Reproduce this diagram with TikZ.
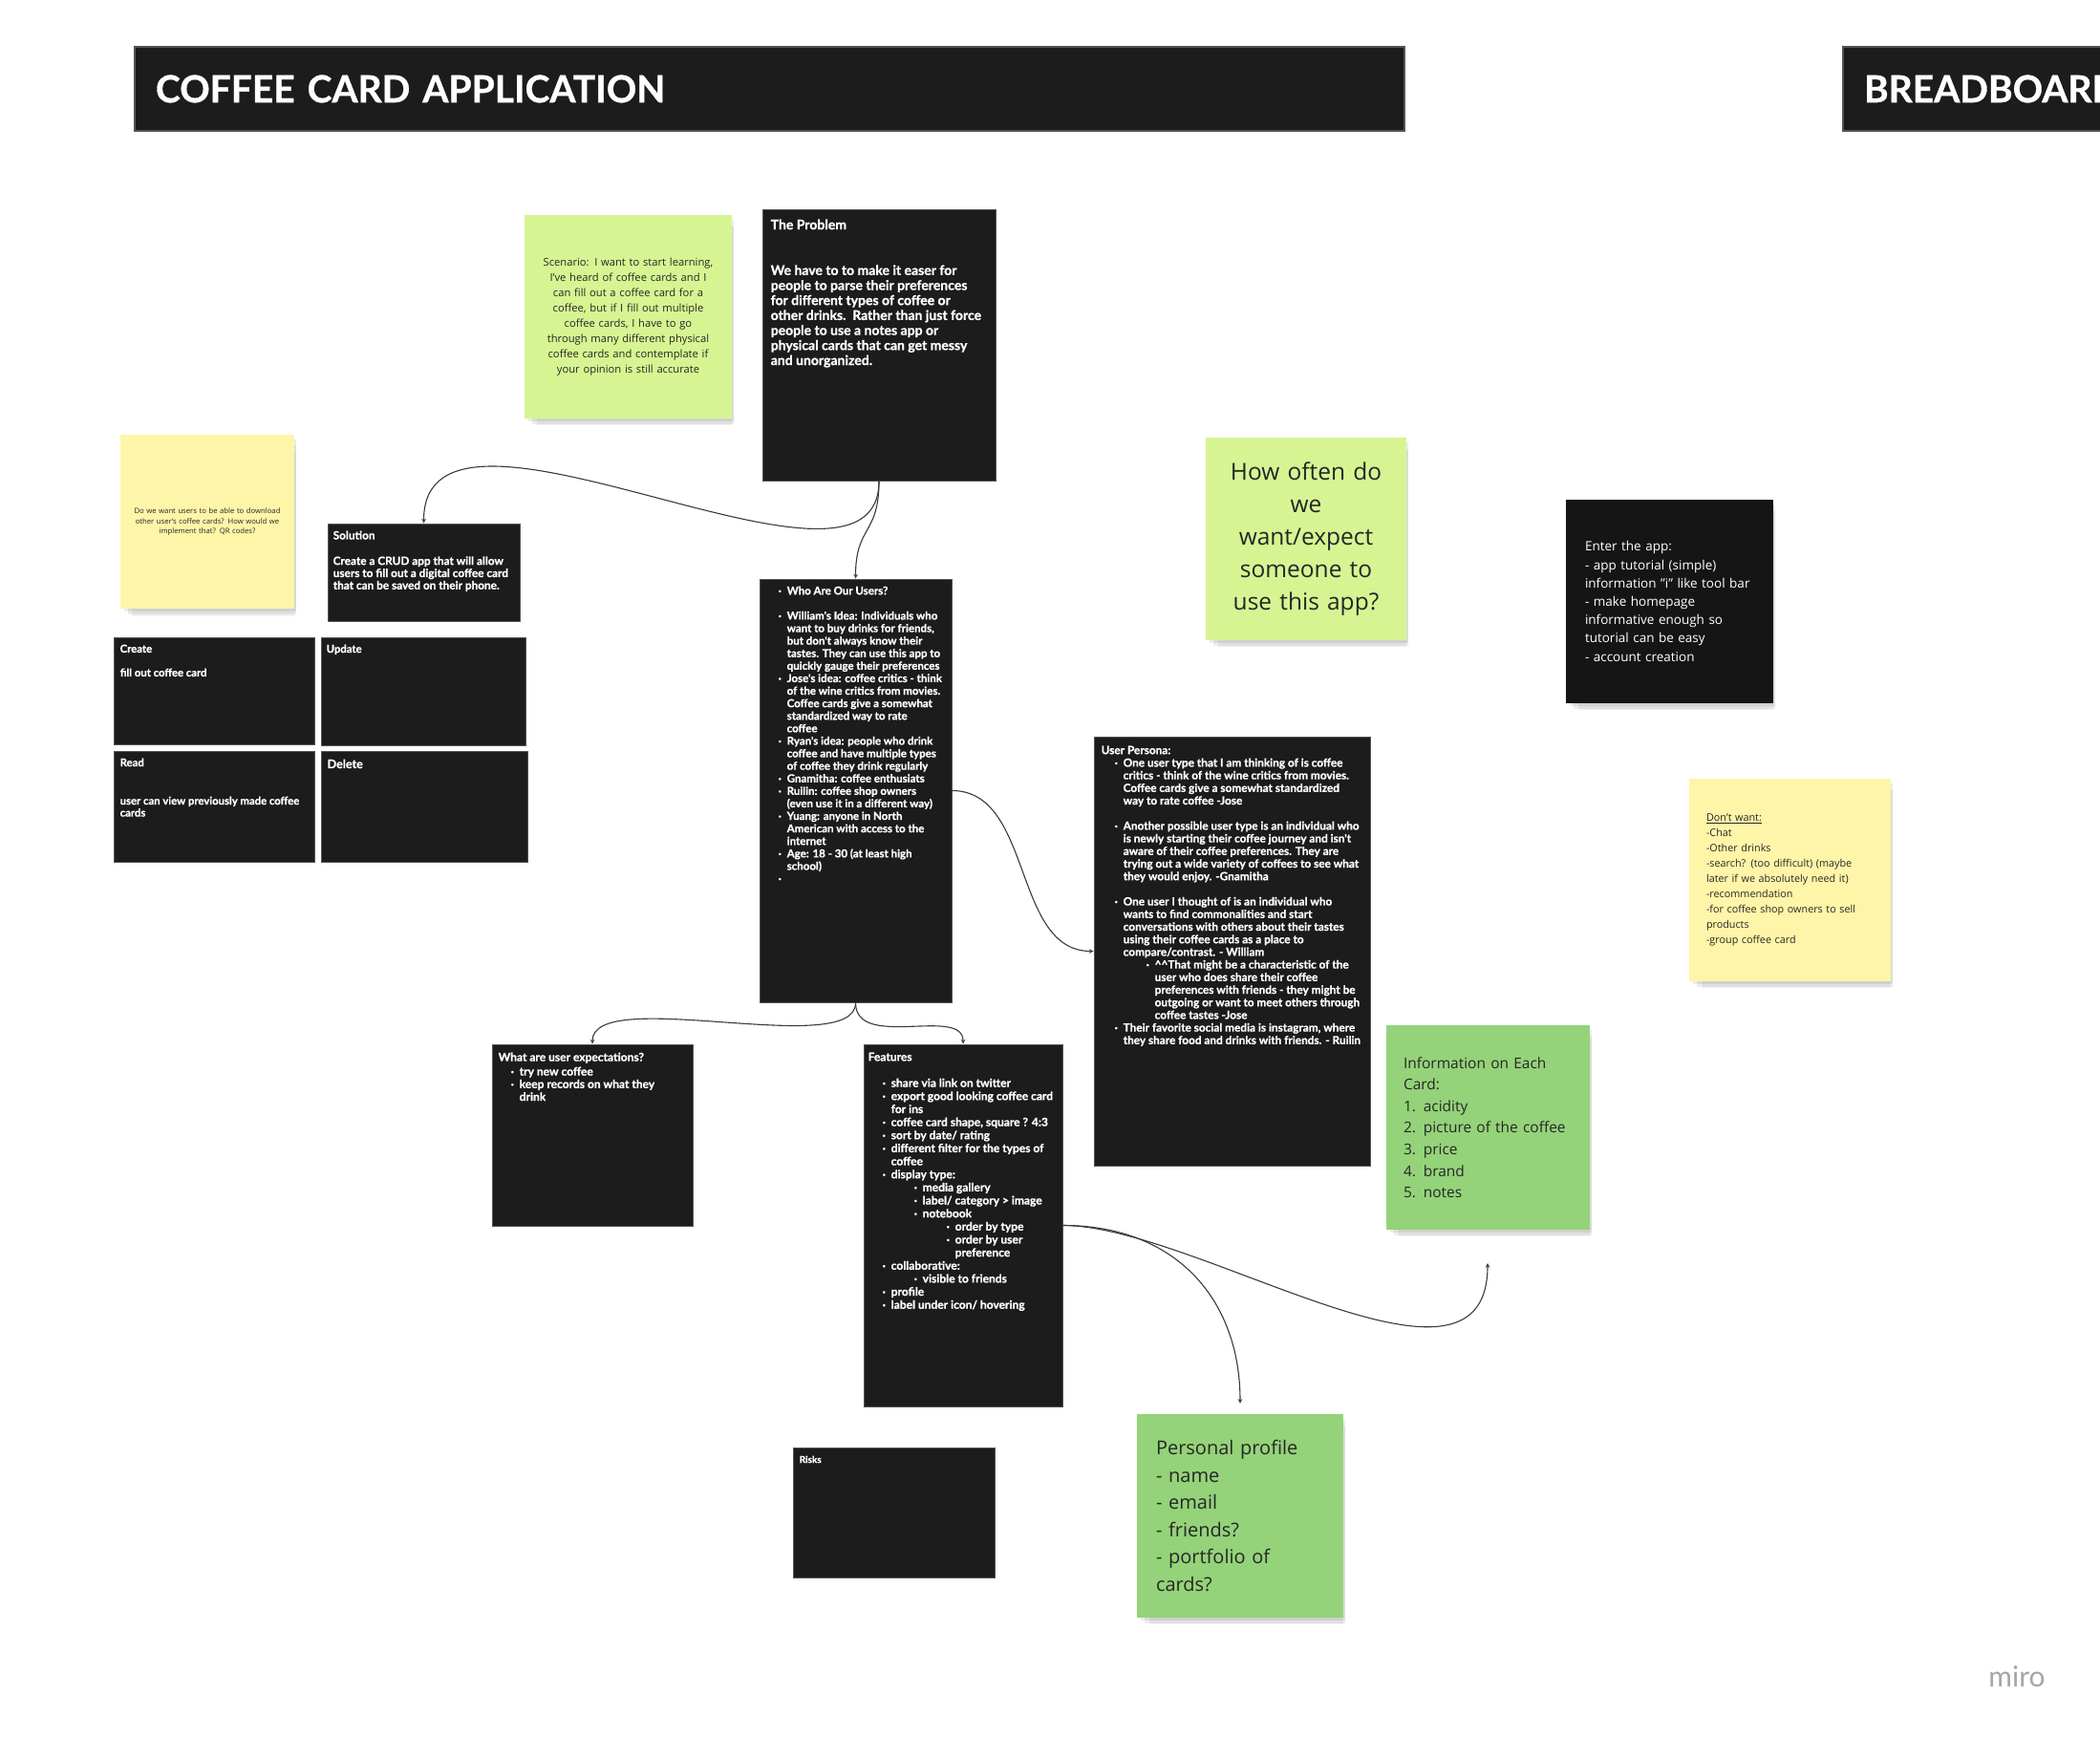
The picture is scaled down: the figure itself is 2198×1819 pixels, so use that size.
\documentclass[tikz,border=0pt]{standalone}
\usepackage{fontspec}
\setmainfont{Open Sans}
\newfontfamily\cardfont{Lato}[BoldFeatures={FakeBold=0.8}]
\usetikzlibrary{shadows,arrows.meta}

\definecolor{cardgray}{HTML}{1C1C1C}
\definecolor{cardline}{HTML}{555555}
\definecolor{palegreen}{HTML}{D6F592}
\definecolor{leafgreen}{HTML}{94D379}
\definecolor{paleyellow}{HTML}{FFF5A8}
\definecolor{stickyblack}{HTML}{151515}
\definecolor{wire}{HTML}{3A3A3A}

% bullet with indent
\newcommand\cbul[1]{\hspace*{#1}\makebox[9pt][l]{·}}

\begin{document}
\begin{tikzpicture}[
    x=1pt, y=-1pt,
    bar/.style={fill=cardgray, draw=cardline, line width=1.5pt, minimum height=88pt, inner xsep=22pt, align=left, text=white, font=\cardfont\bfseries\fontsize{39}{40}\selectfont},
    card/.style={fill=cardgray, draw=cardline, line width=1pt},
    cardtext/.style 2 args={anchor=north west, inner sep=0pt, align=left, text=white, font=\cardfont\bfseries\fontsize{#1}{#2}\selectfont},
    sticky/.style={fill=#1, inner ysep=0pt,
        drop shadow={shadow xshift=3pt, shadow yshift=-4pt, shadow scale=.99, fill=black, opacity=.07},
        drop shadow={shadow xshift=5pt, shadow yshift=-9pt, shadow scale=.97, fill=black, opacity=.07},
        drop shadow={shadow xshift=7pt, shadow yshift=-14pt, shadow scale=.94, fill=black, opacity=.05}},
    notetext/.style 2 args={font=\fontsize{#1}{#2}\selectfont, text=black!85},
    arrow/.style={->, >=stealth, draw=wire, line width=1.1pt}
]
    \useasboundingbox (0,0) rectangle (2198,1819);
    \fill[white] (0,0) rectangle (2198,1819);
    \clip (0,0) rectangle (2198,1819);

    % Header bars
    \node[bar, minimum width=1329pt, text width=1285pt] (title) at (805.5,93) {COFFEE CARD APPLICATION};
    \node[bar, minimum width=400pt, text width=356pt] (breadboard) at (2129,93) {BREADBOARD};

    % Scenario and problem
    \node[sticky=palegreen, minimum width=217pt, minimum height=213pt, inner xsep=8pt, text width=200pt, align=center, notetext={11.2}{15.9}] (scenario) at (657.5,331.5) {Scenario: I want to start learning,\\ I've heard of coffee cards and I\\ can fill out a coffee card for a\\ coffee, but if I fill out multiple\\ coffee cards, I have to go\\ through many different physical\\ coffee cards and contemplate if\\ your opinion is still accurate};
    \node[card, minimum width=244pt, minimum height=283pt] (problem) at (920,361.5) {};
    \node[cardtext={14}{15.7}] (problemtxt) at ([shift={(9,10)}]problem.north west) {The Problem\\[32pt]We have to to make it easer for\\ people to parse their preferences\\ for different types of coffee or\\ other drinks.\ \ Rather than just force\\ people to use a notes app or\\ physical cards that can get messy\\ and unorganized.};

    % Question note
    \node[sticky=paleyellow, minimum width=182pt, minimum height=182pt, inner xsep=6pt, text width=170pt, align=center, notetext={7.7}{10.8}] (download) at (217,546) {Do we want users to be able to download\\ other user's coffee cards? How would we\\ implement that? QR codes?};

    % Solution and CRUD
    \node[card, minimum width=201pt, minimum height=102pt] (solution) at (443.5,599) {};
    \node[cardtext={11.8}{12.8}] (solutiontxt) at ([shift={(6,8)}]solution.north west) {Solution\\[13.9pt]Create a CRUD app that will allow\\ users to fill out a digital coffee card\\ that can be saved on their phone.};
    \node[card, minimum width=210pt, minimum height=112pt] (create) at (224,723) {};
    \node[cardtext={11.3}{12.5}] (createtxt) at ([shift={(7,8)}]create.north west) {Create\\[12.5pt]fill out coffee card};
    \node[card, minimum width=214pt, minimum height=113pt] (update) at (443,723.5) {};
    \node[cardtext={11.3}{12.5}] (updatetxt) at ([shift={(6,8)}]update.north west) {Update};
    \node[card, minimum width=210pt, minimum height=116pt] (read) at (224,844) {};
    \node[cardtext={11.3}{12.5}] (readtxt) at ([shift={(7,8)}]read.north west) {Read\\[27.5pt]user can view previously made coffee\\ cards};
    \node[card, minimum width=216pt, minimum height=116pt] (delete) at (444,844) {};
    \node[cardtext={12.5}{14}] (deletetxt) at ([shift={(7,9)}]delete.north west) {Delete};

    % How often note
    \node[sticky=palegreen, minimum width=210pt, minimum height=212pt, inner xsep=10pt, text width=190pt, align=center, notetext={24.5}{34}] (howoften) at (1367,564) {How often do\\ we\\ want/expect\\ someone to\\ use this app?};

    % Who are our users
    \node[card, minimum width=201pt, minimum height=443pt] (users) at (895.5,827.5) {};
    \node[cardtext={11.5}{13.1}] (userstxt) at ([shift={(20,8)}]users.north west) {\cbul{0pt}Who Are Our Users?\\[13.1pt]
        \cbul{0pt}William's Idea: Individuals who\\ \hspace*{9pt}want to buy drinks for friends,\\ \hspace*{9pt}but don't always know their\\ \hspace*{9pt}tastes. They can use this app to\\ \hspace*{9pt}quickly gauge their preferences\\
        \cbul{0pt}Jose's idea: coffee critics - think\\ \hspace*{9pt}of the wine critics from movies.\\ \hspace*{9pt}Coffee cards give a somewhat\\ \hspace*{9pt}standardized way to rate\\ \hspace*{9pt}coffee\\
        \cbul{0pt}Ryan's idea: people who drink\\ \hspace*{9pt}coffee and have multiple types\\ \hspace*{9pt}of coffee they drink regularly\\
        \cbul{0pt}Gnamitha: coffee enthusiats\\
        \cbul{0pt}Ruilin: coffee shop owners\\ \hspace*{9pt}(even use it in a different way)\\
        \cbul{0pt}Yuang: anyone in North\\ \hspace*{9pt}American with access to the\\ \hspace*{9pt}internet\\
        \cbul{0pt}Age: 18 - 30 (at least high\\ \hspace*{9pt}school)\\
        \cbul{0pt}};

    % Enter the app
    \node[sticky=stickyblack, minimum width=217pt, minimum height=213pt, inner xsep=20pt, text width=177pt, align=left, notetext={13.5}{19.2}, text=white!92] (enterapp) at (1747.5,629.5) {Enter the app:\\ - app tutorial (simple)\\ information "i" like tool bar\\ - make homepage\\ informative enough so\\ tutorial can be easy\\ - account creation};

    % User persona
    \node[card, minimum width=289pt, minimum height=449pt] (persona) at (1289.5,995.5) {};
    \node[cardtext={11.8}{13.2}] (personatxt) at ([shift={(8,10)}]persona.north west) {User Persona:\\
        \cbul{14pt}One user type that I am thinking of is coffee\\ \hspace*{23pt}critics - think of the wine critics from movies.\\ \hspace*{23pt}Coffee cards give a somewhat standardized\\ \hspace*{23pt}way to rate coffee -Jose\\[13.2pt]
        \cbul{14pt}Another possible user type is an individual who\\ \hspace*{23pt}is newly starting their coffee journey and isn't\\ \hspace*{23pt}aware of their coffee preferences. They are\\ \hspace*{23pt}trying out a wide variety of coffees to see what\\ \hspace*{23pt}they would enjoy. -Gnamitha\\[13.2pt]
        \cbul{14pt}One user I thought of is an individual who\\ \hspace*{23pt}wants to find commonalities and start\\ \hspace*{23pt}conversations with others about their tastes\\ \hspace*{23pt}using their coffee cards as a place to\\ \hspace*{23pt}compare/contrast. - William\\
        \cbul{47pt}\textasciicircum\textasciicircum That might be a characteristic of the\\ \hspace*{56pt}user who does share their coffee\\ \hspace*{56pt}preferences with friends - they might be\\ \hspace*{56pt}outgoing or want to meet others through\\ \hspace*{56pt}coffee tastes -Jose\\
        \cbul{14pt}Their favorite social media is instagram, where\\ \hspace*{23pt}they share food and drinks with friends. - Ruilin};

    % Don't want
    \node[sticky=paleyellow, minimum width=211pt, minimum height=212pt, inner xsep=18pt, text width=175pt, align=left, notetext={10.8}{16}] (dontwant) at (1873.5,921) {\underline{Don't want:}\\ -Chat\\ -Other drinks\\ -search? (too difficult) (maybe\\ later if we absolutely need it)\\ -recommendation\\ -for coffee shop owners to sell\\ products\\ -group coffee card};

    % Expectations and features
    \node[card, minimum width=210pt, minimum height=190pt] (expect) at (620,1188) {};
    \node[cardtext={12}{13.2}] (expecttxt) at ([shift={(7,9)}]expect.north west) {What are user expectations?\\[1.8pt]
        \cbul{13pt}try new coffee\\ \cbul{13pt}keep records on what they\\ \hspace*{22pt}drink};
    \node[card, minimum width=208pt, minimum height=379pt] (features) at (1008,1282.5) {};
    \node[cardtext={12}{13.65}] (featurestxt) at ([shift={(5,9)}]features.north west) {Features\\[13.65pt]
        \cbul{15pt}share via link on twitter\\
        \cbul{15pt}export good looking coffee card\\ \hspace*{24pt}for ins\\
        \cbul{15pt}coffee card shape, square ? 4:3\\
        \cbul{15pt}sort by date/ rating\\
        \cbul{15pt}different filter for the types of\\ \hspace*{24pt}coffee\\
        \cbul{15pt}display type:\\
        \cbul{48pt}media gallery\\
        \cbul{48pt}label/ category > image\\
        \cbul{48pt}notebook\\
        \cbul{82pt}order by type\\
        \cbul{82pt}order by user\\ \hspace*{91pt}preference\\
        \cbul{15pt}collaborative:\\
        \cbul{48pt}visible to friends\\
        \cbul{15pt}profile\\
        \cbul{15pt}label under icon/ hovering};

    % Info, risks, profile
    \node[sticky=leafgreen, minimum width=213pt, minimum height=214pt, inner xsep=18pt, text width=177pt, align=left, notetext={15.5}{22.6}] (info) at (1557.5,1180) {Information on Each\\ Card:\\ 1. acidity\\ 2. picture of the coffee\\ 3. price\\ 4. brand\\ 5. notes};
    \node[card, minimum width=211pt, minimum height=136pt] (risks) at (935.5,1583) {};
    \node[cardtext={10}{12}] (riskstxt) at ([shift={(7,9)}]risks.north west) {Risks};
    \node[sticky=leafgreen, minimum width=216pt, minimum height=213pt, inner xsep=20pt, text width=176pt, align=left, notetext={20}{28.5}] (profile) at (1298,1586.5) {Personal profile\\ - name\\ - email\\ - friends?\\ - portfolio of\\ cards?};
    \coordinate (infoin) at (1557,1322);

    % Watermark
    \node[text=black!35, font=\cardfont\fontsize{30}{30}\selectfont] (miro) at (2111,1755) {miro};

    % Arrows
    \draw[arrow] (problem.south) .. controls +(0,57) and +(0,-56) .. (users.north);
    \draw[arrow] (problem.south) .. controls +(0,160) and +(0,-175) .. (solution.north);
    \draw[arrow] (users.east) .. controls +(85,0) and +(-85,0) .. (persona.west);
    \draw[arrow] (users.south) .. controls +(0,60) and +(0,-62) .. (expect.north);
    \draw[arrow] (users.south) .. controls +(0,50) and +(0,-40) .. (features.north);
    \draw[arrow] (features.east) .. controls +(140,0) and +(0,168) .. (infoin);
    \draw[arrow, shorten >=11pt] (features.east) .. controls +(118,0) and +(0,-120) .. (profile.north);
\end{tikzpicture}
\end{document}
